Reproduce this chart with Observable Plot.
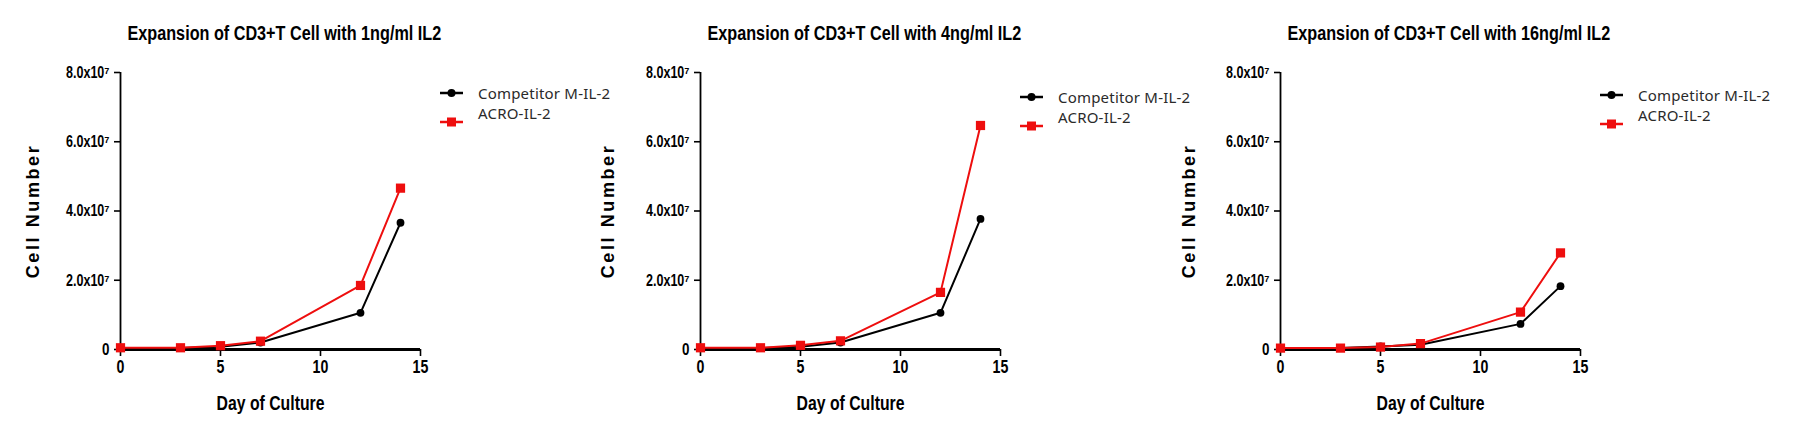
<!DOCTYPE html>
<html>
<head>
<meta charset="utf-8">
<script src="https://cdn.jsdelivr.net/npm/d3@7"></script>
<script src="https://cdn.jsdelivr.net/npm/@observablehq/plot@0.6"></script>
<style>
  html, body { margin: 0; padding: 0; background: #fff; }
  #root { position: relative; width: 1806px; height: 436px; overflow: hidden; background: #fff; }
  .panel { position: absolute; top: 0; }
  .legend { position: absolute; overflow: visible; }
</style>
</head>
<body>
<div id="root"></div>
<script>
// ---------- data ----------
const days = [0, 3, 5, 7, 12, 14];
const seriesNames = ["Competitor M-IL-2", "ACRO-IL-2"];
const titles = [
  "Expansion of CD3+T Cell with 1ng/ml IL2",
  "Expansion of CD3+T Cell with 4ng/ml IL2",
  "Expansion of CD3+T Cell with 16ng/ml IL2"
];
// cell numbers (units of 1e7)
const competitor1ng = [0.04, 0.04, 0.08, 0.20, 1.06, 3.66];
const acro1ng       = [0.05, 0.05, 0.11, 0.24, 1.85, 4.66];
const competitor4ng = [0.04, 0.04, 0.08, 0.20, 1.06, 3.77];
const acro4ng       = [0.05, 0.05, 0.12, 0.25, 1.65, 6.47];
const competitor16ng = [0.04, 0.04, 0.09, 0.14, 0.74, 1.83];
const acro16ng       = [0.04, 0.04, 0.07, 0.17, 1.08, 2.79];
const xTicks = [0, 5, 10, 15];
const yTicks = [0, 2e7, 4e7, 6e7, 8e7];
const xLabel = "Day of Culture";
const yLabel = "Cell Number";

// ---------- layout / style ----------
const RED = "#ee0e0e";
const boldFont = "'Liberation Sans', Arial, sans-serif";
const legendFont = "'Noto Sans', 'Open Sans', sans-serif";
const panelW = 580, panelH = 436;
const panels = [
  { left: 0,    comp: competitor1ng,  acro: acro1ng,  ylabOffset: 87, legendDy: 0 },
  { left: 580,  comp: competitor4ng,  acro: acro4ng,  ylabOffset: 92, legendDy: 4 },
  { left: 1160, comp: competitor16ng, acro: acro16ng, ylabOffset: 91, legendDy: 2 }
];

const root = document.getElementById("root");

function yFmt(d) {
  return d === 0 ? "0" : (d / 1e7).toFixed(1) + "x10\u2077";
}

// squeeze text horizontally to imitate a narrow bold face
function squeeze(el, k) {
  const len = el.getComputedTextLength();
  if (len > 0) {
    el.setAttribute("textLength", (len * k).toFixed(2));
    el.setAttribute("lengthAdjust", "spacingAndGlyphs");
  }
}

panels.forEach((p, i) => {
  const comp = days.map((d, k) => ({ day: d, value: p.comp[k] * 1e7, series: seriesNames[0] }));
  const acro = days.map((d, k) => ({ day: d, value: p.acro[k] * 1e7, series: seriesNames[1] }));

  const chart = Plot.plot({
    width: panelW,
    height: panelH,
    marginLeft: 120,
    marginRight: 160,
    marginTop: 72,
    marginBottom: 87,
    style: { background: "transparent", overflow: "visible", fontFamily: boldFont, fontWeight: "bold", fontSize: "17px", color: "#000" },
    x: { domain: [0, 15] },
    y: { domain: [0, 8e7] },
    marks: [
      Plot.axisY(yTicks, { tickFormat: yFmt, tickSize: 6, tickPadding: 5, strokeWidth: 1.6, label: null, fontSize: 16.5 }),
      Plot.axisX(xTicks, { tickSize: 7, tickPadding: 4, strokeWidth: 1.6, label: null, fontSize: 17.5 }),
      Plot.ruleX([0], { strokeWidth: 1.8 }),
      Plot.ruleY([0], { strokeWidth: 3 }),
      Plot.line(comp, { x: "day", y: "value", stroke: "#000", strokeWidth: 2 }),
      Plot.dot(comp, { x: "day", y: "value", symbol: "circle", r: 3.9, fill: "#000" }),
      Plot.line(acro, { x: "day", y: "value", stroke: RED, strokeWidth: 2 }),
      Plot.dot(acro, { x: "day", y: "value", symbol: "square", r: 5.2, fill: RED }),
      Plot.text([titles[i]], { frameAnchor: "top-left", textAnchor: "start", dx: 7, dy: -39, fontSize: 20, fontWeight: "bold", lineAnchor: "middle" }),
      Plot.text([xLabel], { frameAnchor: "bottom", textAnchor: "middle", dy: 54, fontSize: 19.5, fontWeight: "bold", lineAnchor: "middle" }),
      Plot.text([yLabel], { frameAnchor: "left", textAnchor: "middle", dx: -p.ylabOffset, rotate: -90, fontSize: 18, fontWeight: "bold", lineAnchor: "middle" })
    ]
  });

  const wrap = document.createElement("div");
  wrap.className = "panel";
  wrap.style.left = p.left + "px";
  wrap.appendChild(chart);
  root.appendChild(wrap);

  d3.select(chart).selectAll("text").each(function () {
    const t = this.textContent;
    if (t === yLabel) {
      this.setAttribute("letter-spacing", "2.6px");
    } else if (t.includes("x10")) {
      squeeze(this, 0.76);
    } else {
      squeeze(this, 0.81);
    }
  });

  // legend
  const lx = p.left + 120 + 320, ly = 80 + p.legendDy;
  const svg = d3.create("svg").attr("class", "legend").attr("width", 220).attr("height", 60)
    .style("left", lx + "px").style("top", ly + "px");
  const rows = [
    { name: seriesNames[0], color: "#000", sym: "circle", my: 13, ty: 14.5 },
    { name: seriesNames[1], color: RED, sym: "square", my: 42, ty: 35 }
  ];
  rows.forEach(r => {
    svg.append("line").attr("x1", 0).attr("x2", 23).attr("y1", r.my).attr("y2", r.my)
      .attr("stroke", r.color).attr("stroke-width", 2.5);
    if (r.sym === "circle") {
      svg.append("circle").attr("cx", 11.5).attr("cy", r.my).attr("r", 4).attr("fill", r.color);
    } else {
      svg.append("rect").attr("x", 7).attr("y", r.my - 4.5).attr("width", 9).attr("height", 9).attr("fill", r.color);
    }
    svg.append("text").attr("x", 38).attr("y", r.ty).attr("dominant-baseline", "middle")
      .attr("font-family", legendFont).attr("font-size", 15).attr("fill", "#2a2a2a")
      .attr("letter-spacing", "0.2px").text(r.name);
  });
  root.appendChild(svg.node());
});
</script>
</body>
</html>
